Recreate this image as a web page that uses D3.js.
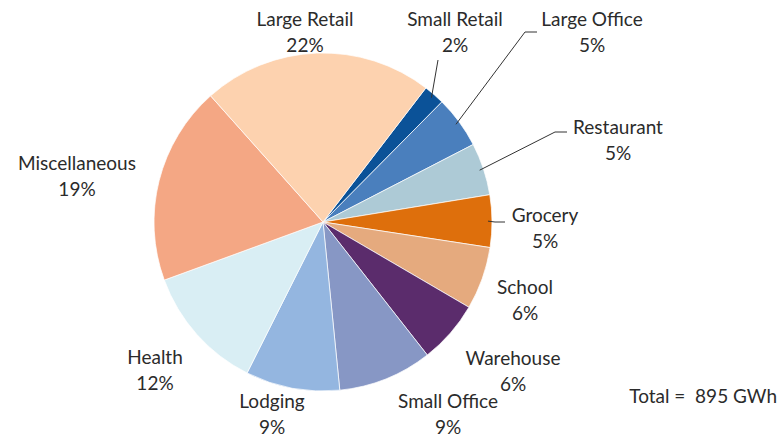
<!DOCTYPE html>
<html>
<head>
<meta charset="utf-8">
<script src="https://cdn.jsdelivr.net/npm/d3@7"></script>
<style>
  body { margin: 0; background: #fff; }
  svg { display: block; }
  text { font-family: Lato, "Open Sans", sans-serif; fill: #2b2b2b; }
</style>
</head>
<body>
<svg id="chart" width="780" height="439"></svg>
<script>
// Commercial electricity use by building type (share of total)
const categories = ["Small Retail", "Large Office", "Restaurant", "Grocery", "School",
  "Warehouse", "Small Office", "Lodging", "Health", "Miscellaneous", "Large Retail"];
const shares = [2, 5, 5, 5, 6, 6, 9, 9, 12, 19, 22];
const colors = ["#0b5298", "#4a7fbd", "#adcad6", "#de6f0c", "#e5aa7e",
  "#5b2c6c", "#8797c5", "#94b6e0", "#d9eef4", "#f4a784", "#fdd2af"];
const totalLabel = "Total =  895 GWh";

// Label placement (centre of the two-line label) and leader lines
const labelPos = {
  "Small Retail": [455, 19], "Large Office": [592, 19], "Restaurant": [618, 127],
  "Grocery": [545, 215], "School": [525, 287], "Warehouse": [513, 358],
  "Small Office": [448, 401], "Lodging": [272, 401], "Health": [155, 357],
  "Miscellaneous": [77, 163], "Large Retail": [305, 19]
};
const leaders = {
  "Small Retail": [[438, 60]],
  "Large Office": [[537, 32], [525, 32]],
  "Restaurant": [[567, 132], [555, 132]],
  "Grocery": [[505, 222], [495, 222]]
};

const svg = d3.select("#chart");
const cx = 323, cy = 222, r = 169;
const startAngle = 37.5 * Math.PI / 180;

const pie = d3.pie().sort(null).value(d => d.v)
  .startAngle(startAngle).endAngle(startAngle + 2 * Math.PI);
const data = categories.map((c, i) => ({ c, v: shares[i], col: colors[i] }));
const arcs = pie(data);
const arc = d3.arc().innerRadius(0).outerRadius(r);
const edge = d3.arc().innerRadius(r - 4).outerRadius(r - 4);

const g = svg.append("g").attr("transform", `translate(${cx},${cy})`);
g.selectAll("path").data(arcs).join("path")
  .attr("d", arc)
  .attr("fill", d => d.data.col)
  .attr("stroke", "#fff")
  .attr("stroke-opacity", 0.7)
  .attr("stroke-width", 1);

// leader lines from label to slice edge
arcs.forEach(a => {
  const pts = leaders[a.data.c];
  if (!pts) return;
  const [ex, ey] = edge.centroid(a);
  const line = pts.concat([[cx + ex, cy + ey]]);
  svg.append("path")
    .attr("d", d3.line()(line))
    .attr("fill", "none")
    .attr("stroke", "#333")
    .attr("stroke-width", 1);
});

// two-line labels
arcs.forEach(a => {
  const [x, y] = labelPos[a.data.c];
  const t = svg.append("text")
    .attr("text-anchor", "middle")
    .attr("font-size", 19);
  t.append("tspan").attr("x", x).attr("y", y).attr("dy", "0.35em").text(a.data.c);
  t.append("tspan").attr("x", x).attr("y", y + 26).attr("dy", "0.35em").text(a.data.v + "%");
});

svg.append("text")
  .attr("x", 777).attr("y", 396).attr("dy", "0.35em")
  .attr("text-anchor", "end")
  .attr("font-size", 19)
  .attr("xml:space", "preserve")
  .style("white-space", "pre")
  .text(totalLabel);
</script>
</body>
</html>
